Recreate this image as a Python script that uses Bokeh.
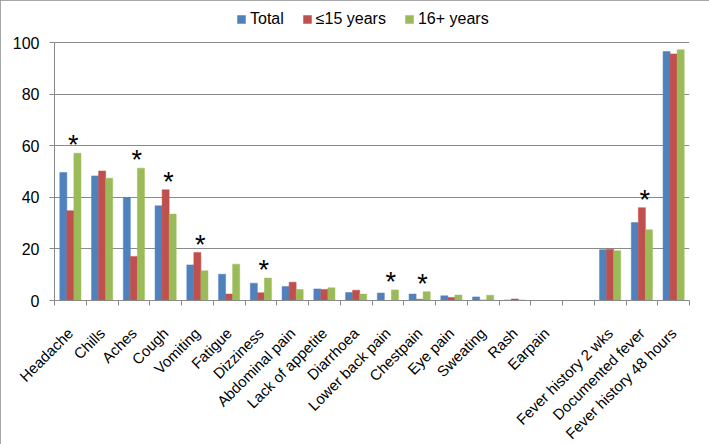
import math
from bokeh.plotting import figure
from bokeh.models import ColumnDataSource, FixedTicker, Legend, LegendItem, Range1d
from bokeh.transform import dodge
from bokeh.core.properties import value
from bokeh.embed import file_html
from bokeh.resources import INLINE

# ---- data ----
categories = ["Headache", "Chills", "Aches", "Cough", "Vomiting", "Fatigue", "Dizziness",
              "Abdominal pain", "Lack of appetite", "Diarrhoea", "Lower back pain", "Chestpain",
              "Eye pain", "Sweating", "Rash", "Earpain", "",
              "Fever history 2 wks", "Documented fever", "Fever history 48 hours"]
total = [49.6, 48.3, 39.9, 36.7, 13.8, 10.2, 6.7, 5.4, 4.5, 3.1, 2.9, 2.5, 1.8, 1.4, 0.2, 0.0, 0.0,
         19.7, 30.2, 96.5]
age_le15 = [34.8, 50.2, 17.1, 42.9, 18.6, 2.5, 3.0, 7.1, 4.3, 4.0, 0.0, 0.5, 1.2, 0.2, 0.6, 0.0, 0.0,
            19.9, 36.0, 95.6]
age_16plus = [57.1, 47.4, 51.3, 33.5, 11.5, 14.1, 8.7, 4.3, 4.9, 2.5, 4.1, 3.4, 2.1, 2.0, 0.2, 0.0, 0.0,
              19.3, 27.4, 97.2]
significant = ["Headache", "Aches", "Cough", "Vomiting", "Dizziness", "Lower back pain",
               "Chestpain", "Documented fever"]
series_names = ["Total", "\u226415 years", "16+ years"]
y_ticks = [0, 20, 40, 60, 80, 100]

colors = ["#4F81BD", "#C0504D", "#9BBB59"]
FONT = "Liberation Sans"
GRID = "#8a8a8a"

pos = list(range(1, len(categories) + 1))
src = ColumnDataSource(dict(x=pos, total=total, le15=age_le15, p16=age_16plus))

# frame extends above 100 to leave room for the legend inside the plot area
p = figure(frame_width=635, frame_height=292, output_backend="svg", toolbar_location=None,
           title=None,
           x_range=Range1d(0.5, len(categories) + 0.5), y_range=Range1d(0, 113.2),
           min_border_left=54, min_border_right=20, min_border_top=8, min_border_bottom=144)
p.outline_line_color = None
p.background_fill_color = "white"
p.border_fill_color = "white"

bw = 0.222
renderers = []
for col, off, c in zip(["total", "le15", "p16"], [-bw, 0, bw], colors):
    r = p.vbar(x=dodge("x", off, range=p.x_range), top=col, width=bw, source=src,
               fill_color=c, line_color=c, line_width=0.5)
    renderers.append(r)

# significance markers
sx, sy = [], []
for name in significant:
    i = categories.index(name)
    sx.append(pos[i])
    sy.append(max(total[i], age_le15[i], age_16plus[i]))
p.text(x=sx, y=sy, text=["*"] * len(sx), text_font=value(FONT), text_font_size="27px",
       text_align="center", text_baseline="middle", x_offset=3, y_offset=-8, text_color="black")

# axes
p.xaxis.ticker = FixedTicker(ticks=pos, minor_ticks=[x - 0.5 for x in pos] + [pos[-1] + 0.5])
p.xaxis.major_label_overrides = {x: n for x, n in zip(pos, categories)}
p.xaxis.major_label_orientation = math.pi / 4
p.xaxis.major_tick_line_color = None
p.xaxis.major_tick_out = 0
p.xaxis.major_tick_in = 0
p.xaxis.minor_tick_out = 5
p.xaxis.minor_tick_in = 0
p.xaxis.minor_tick_line_color = GRID
p.xaxis.axis_line_color = GRID
p.xaxis.major_label_text_font = FONT
p.xaxis.major_label_text_font_size = "15px"
p.xaxis.major_label_text_color = "black"
p.xaxis.major_label_standoff = 25

p.yaxis.ticker = FixedTicker(ticks=y_ticks)
p.yaxis.bounds = (y_ticks[0], y_ticks[-1])
p.yaxis.major_tick_out = 5
p.yaxis.major_tick_in = 0
p.yaxis.minor_tick_line_color = None
p.yaxis.major_tick_line_color = GRID
p.yaxis.axis_line_color = GRID
p.yaxis.major_label_text_font = FONT
p.yaxis.major_label_text_font_size = "16px"
p.yaxis.major_label_text_color = "black"
p.yaxis.major_label_standoff = 10

p.xgrid.grid_line_color = None
p.ygrid.grid_line_color = GRID
p.ygrid.grid_line_width = 1

legend = Legend(items=[LegendItem(label=n, renderers=[r]) for n, r in zip(series_names, renderers)],
                orientation="horizontal", location=(182, 272),
                glyph_width=10, glyph_height=10, label_standoff=4, spacing=18,
                padding=0, margin=0, border_line_color=None, background_fill_alpha=0,
                label_text_font=FONT, label_text_font_size="16px", label_height=16,
                label_text_color="black")
p.add_layout(legend, "center")

p.styles = {"outline": "1px solid #8a8a8a", "outline-offset": "-1px"}

open("out.html", "w").write(file_html(p, INLINE))
